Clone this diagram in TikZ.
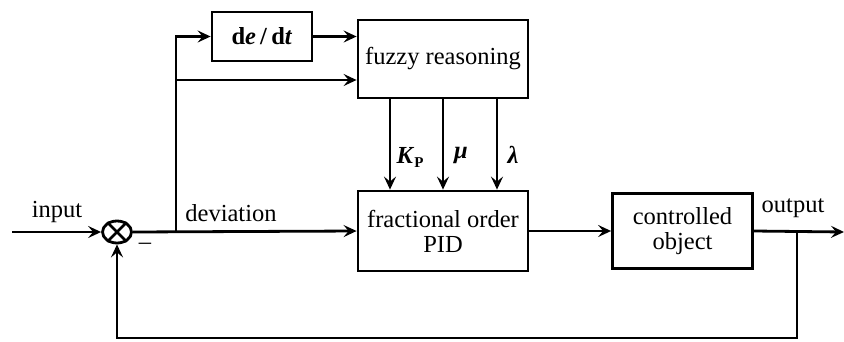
\documentclass[tikz,border=0pt]{standalone}
\usepackage{fontspec}
\setmainfont{Liberation Serif}
\usetikzlibrary{arrows.meta,shapes.geometric}
\begin{document}
\begin{tikzpicture}[x=1pt,y=-1pt,
  line width=2.8pt,
  every node/.style={font=\fontsize{24.5}{28}\selectfont},
  blk/.style={draw, line width=2.8pt, align=center, inner sep=0pt},
  arr/.style={-{Stealth[length=13pt,width=12pt,inset=5pt]}},
  lbl/.style={inner sep=0pt}]
\useasboundingbox (0,0) rectangle (844,341);
% blocks
\node[blk, minimum width=100pt, minimum height=49pt] (deriv) at (262,36.5) {\textbf{d}\textbf{\textit{e}}\,\textbf{/}\,\textbf{d}\textbf{\textit{t}}};
\node[blk, minimum width=170pt, minimum height=78pt] (fuzzy) at (443,59) {fuzzy reasoning};
\node[blk, minimum width=170pt, minimum height=80pt] (frac) at (443,231) {fractional order\\[-3pt]PID};
\node[blk, minimum width=140pt, minimum height=75pt] (plant) at (682.5,231) {controlled\\[-3pt]object};
\node[draw, ellipse, line width=2.8pt, minimum width=29pt, minimum height=22pt, inner sep=0pt] (sum) at (117,232) {};
\draw (sum.45) -- (sum.225) (sum.135) -- (sum.315);
% coordinates
\coordinate (in) at (12,232);
\coordinate (br) at (176,232);
\coordinate (brmid) at (176,80);
\coordinate (out) at (844,232);
\coordinate (fb) at (797,232);
\coordinate (fbbot) at (797,338);
% connectors
\draw[arr] (in) -- (sum.west);
\draw[arr] (sum.east) -- (frac.west);
\draw[arr] (br) |- (deriv.west);
\draw[arr] (brmid) -- (brmid -| fuzzy.west);
\draw[arr] (deriv.east) -- (deriv.east -| fuzzy.west);
\draw[arr] ([xshift=-53pt]fuzzy.south) -- ([xshift=-53pt]frac.north);
\draw[arr] (fuzzy.south) -- (frac.north);
\draw[arr] ([xshift=54pt]fuzzy.south) -- ([xshift=54pt]frac.north);
\draw[arr] (frac.east) -- (plant.west);
\draw[arr] (plant.east) -- (out);
\draw[arr] (fb) -- (fbbot) -| (sum.south);
% labels
\node[lbl] (lin) at (57,212) {input};
\node[lbl] (ldev) at (231,213) {deviation};
\node[lbl] (lout) at (793,208) {output};
\node[lbl] (lminus) at (145,246) {\textendash};
\node[lbl] (lkp) at (410,157) {\textbf{\textit{K}}\raisebox{-4pt}{\fontsize{15}{15}\selectfont\textbf{P}}};
\node[lbl] (lmu) at (461,155) {\textbf{\textit{μ}}};
\node[lbl] (llam) at (513,155) {\textbf{\textit{λ}}};
\end{tikzpicture}
\end{document}
